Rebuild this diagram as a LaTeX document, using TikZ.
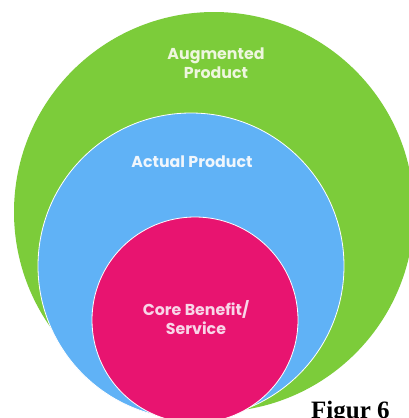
\documentclass[tikz,border=0pt]{standalone}
\usepackage{fontspec}
\newfontfamily\labelfont{Poppins}
\newfontfamily\capfont{Liberation Serif}
\definecolor{augGreen}{RGB}{124,204,58}
\definecolor{actBlue}{RGB}{96,178,246}
\definecolor{coreMagenta}{RGB}{232,20,112}
\definecolor{augText}{RGB}{238,246,222}
\definecolor{actText}{RGB}{240,246,252}
\definecolor{coreText}{RGB}{248,214,232}
\tikzset{
  ring/.style={draw=white, line width=0.8pt},
  ringlabel/.style={font=\labelfont\bfseries\fontsize{15.8}{19}\selectfont, align=center, inner sep=0pt}
}
\begin{document}
\begin{tikzpicture}[x=1pt,y=-1pt]
\useasboundingbox (0,0) rectangle (409,418);
\fill[white] (0,0) rectangle (409,418);
\begin{scope}
\clip (0,0) rectangle (409,418);
% nested product levels
\fill[augGreen] (214,212) circle (200);
\filldraw[ring, fill=actBlue] (191,266) circle (153);
\filldraw[ring, fill=coreMagenta] (195,320) circle (103);
\node[font=\capfont\bfseries\fontsize{25}{28}\selectfont, anchor=base west, inner sep=0pt] (fig) at (311,418) {Figur 6};
\end{scope}
\node[ringlabel, text=augText] (aug) at (216,63) {Augmented\\Product};
\node[ringlabel, text=actText] (act) at (192,162) {Actual Product};
\node[ringlabel, text=coreText] (core) at (196,318) {Core Benefit/\\Service};
\end{tikzpicture}
\end{document}
